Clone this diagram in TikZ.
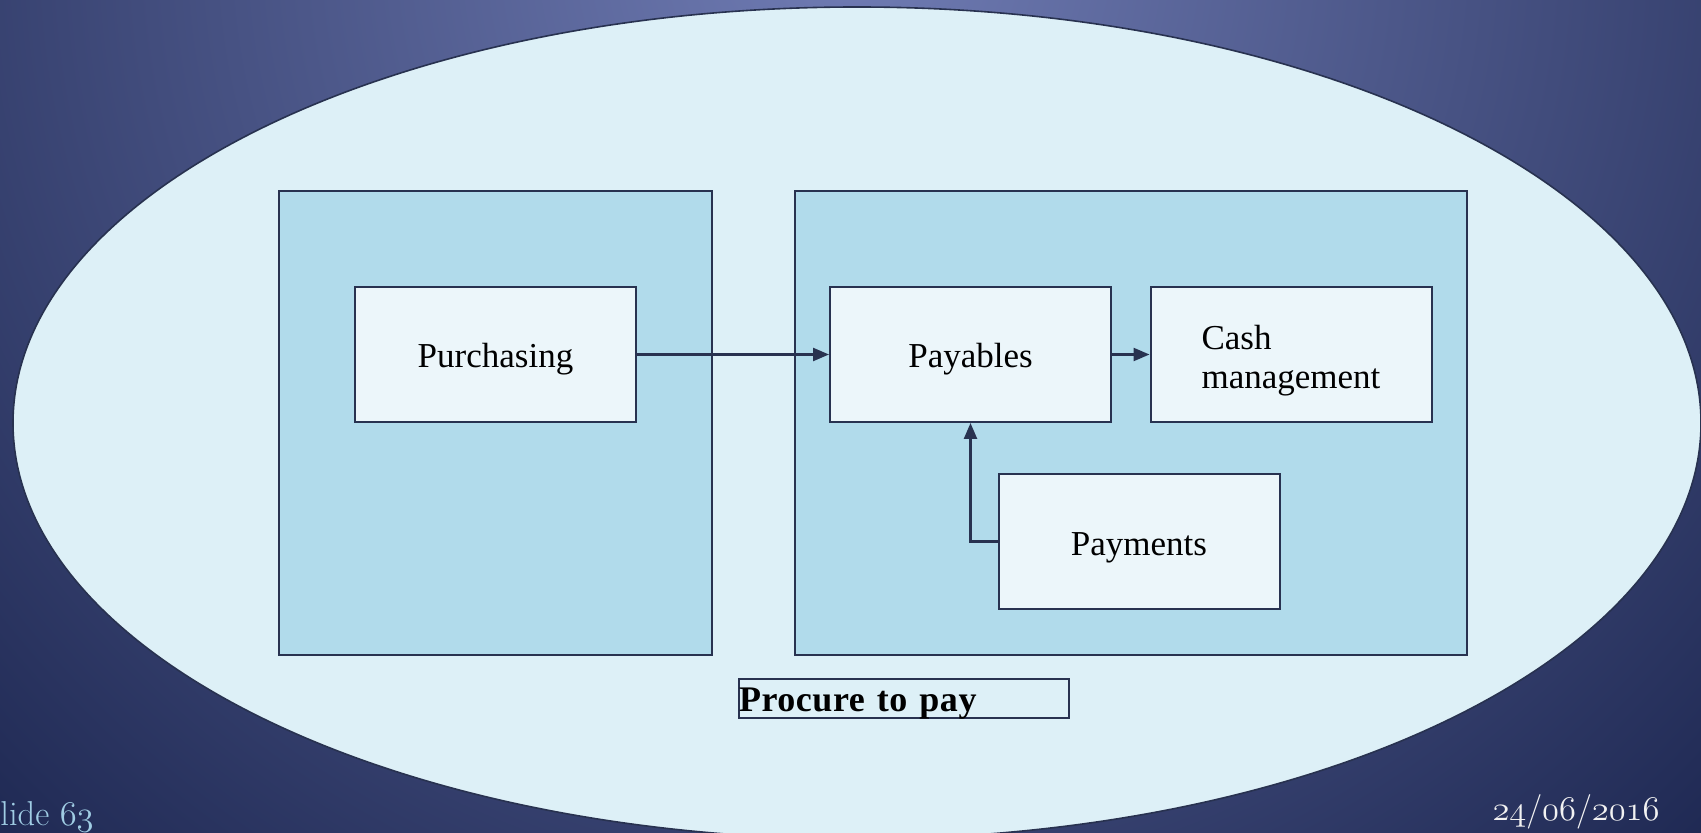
\documentclass[tikz,border=0pt]{standalone}
\usepackage{fontspec}
\newfontfamily\boxfont{Liberation Serif}
\usepackage{tikz}
\usetikzlibrary{arrows.meta}
\usetikzlibrary{shapes.geometric}

\definecolor{edge}{RGB}{40,50,80}
\definecolor{ovalfill}{RGB}{221,240,247}
\definecolor{groupfill}{RGB}{177,219,235}
\definecolor{stepfill}{RGB}{236,246,250}
\definecolor{bgtop}{RGB}{112,124,180}
\definecolor{bgdark}{RGB}{30,40,82}
\definecolor{slideno}{RGB}{160,205,228}
\definecolor{datecol}{RGB}{242,242,242}

\newcommand{\osnum}[1]{{\usefont{OML}{cmm}{m}{it}#1}}

\begin{document}
\begin{tikzpicture}[
    x=0.5pt, y=-0.5pt,
    stepbox/.style={draw=edge,line width=1pt,fill=stepfill,minimum width=140.5pt,minimum height=67.5pt,inner sep=0pt,text height=14pt,text depth=0.5pt,font=\boxfont\fontsize{17.5}{19.5}\selectfont},
    groupbox/.style={draw=edge,line width=0.8pt,fill=groupfill,inner sep=0pt},
    titlebox/.style={draw=edge,line width=0.8pt,minimum height=19.5pt,inner sep=0pt,text width=165pt,text height=14pt,text depth=1.2pt,align=left,font=\boxfont\bfseries\addfontfeature{LetterSpace=1.5}\fontsize{18}{20}\selectfont},
    footer/.style={inner sep=0pt,font=\fontsize{17.28}{20}\selectfont},
    flow/.style={draw=edge,line width=1.2pt,-{Triangle[length=8pt,width=6.5pt]}}
    ]

    \useasboundingbox (0,0) rectangle (1701,833);
    \begin{scope}
      \clip (0,0) rectangle (1701,833);
      \shade[inner color=bgtop, outer color=bgdark] (850,-50) circle (625pt);
    \end{scope}

    \draw[draw=edge, line width=0.8pt, fill=ovalfill] (857,423) ellipse [x radius=422pt, y radius=208pt];

    \node[groupbox, minimum width=216.5pt, minimum height=232pt] (buy) at (495.5,423) {};
    \node[groupbox, minimum width=336pt, minimum height=232pt] (settle) at (1131,423) {};

    \node[stepbox] (purch) at (495.5,354.5) {Purchasing};
    \node[stepbox] (payab) at (970.5,354.5) {Payables};
    \node[stepbox, label={[align=left, font=\boxfont\fontsize{17.5}{19.5}\selectfont, yshift=-3.2pt]center:Cash\\management}] (cash) at (1291,354.5) {};
    \node[stepbox] (paymt) at (1139,541.5) {Payments};

    \node[titlebox] (title) at (904,698.5) {Procure to pay};

    \path (purch) edge[flow] (payab)
    (payab) edge[flow] (cash)
    ;
    \draw[flow] (paymt.west) -| (payab.south);

    \node[footer, anchor=base west, text=slideno] (slide) at (0,825) {lide \osnum{63}};
    \node[footer, anchor=base east, text=datecol] (date) at (1660,820) {\osnum{24}/\osnum{06}/\osnum{2016}};

  \end{tikzpicture}
\end{document}
